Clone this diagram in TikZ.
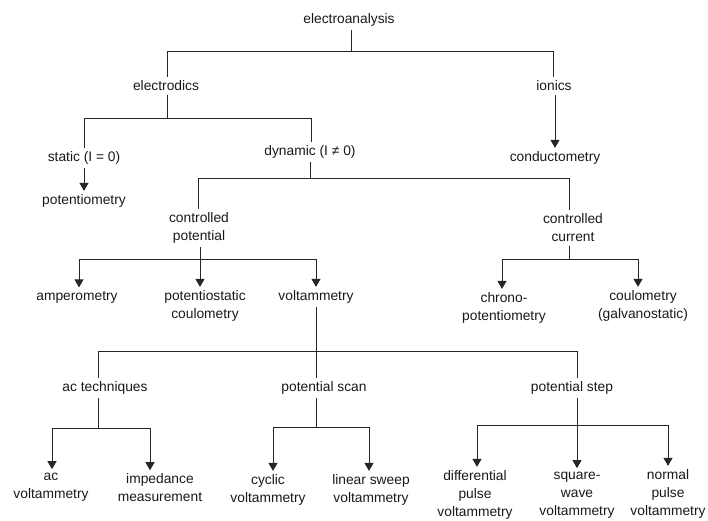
\documentclass[tikz,border=0pt]{standalone}
\usepackage{fontspec}
\setmainfont{Liberation Sans}
\usetikzlibrary{arrows.meta}

\begin{document}
\begin{tikzpicture}[x=1pt, y=-1pt,
		item/.style={align=center, inner sep=3.5pt, text=black!90,
			font=\fontsize{13.8}{18}\selectfont},
		link/.style={draw=black!85, line width=0.9pt},
		arr/.style={link, -{Triangle[width=9pt, length=8pt]}}
	]
		\useasboundingbox (0,0) rectangle (708,520);

		% level 0 - 2
		\node[item] (root) at (349,20) {electroanalysis};
		\node[item] (elec) at (166,86) {electrodics};
		\node[item] (ion) at (554,86) {ionics};
		\node[item] (stat) at (84,158) {static (I = 0)};
		\node[item] (dyn) at (310,152) {dynamic (I ≠ 0)};
		\node[item] (pot) at (84,201) {potentiometry};
		\node[item] (cond) at (555,158) {conductometry};

		% level 3 - 4
		\node[item] (cpot) at (199,228) {controlled\\potential};
		\node[item] (ccur) at (573,228) {controlled\\current};
		\node[item] (amp) at (77,297) {amperometry};
		\node[item] (pcoul) at (205,306) {potentiostatic\\coulometry};
		\node[item] (volt) at (316,297) {voltammetry};
		\node[item] (chrono) at (504,308) {chrono-\\potentiometry};
		\node[item] (gcoul) at (643,306) {coulometry\\(galvanostatic)};

		% level 5 - 6
		\node[item] (act) at (105,388) {ac techniques};
		\node[item] (scan) at (324,388) {potential scan};
		\node[item] (pstep) at (572,388) {potential step};
		\node[item] (acv) at (51,487) {ac\\voltammetry};
		\node[item] (imp) at (160,488) {impedance\\measurement};
		\node[item] (cyc) at (268,490) {cyclic\\voltammetry};
		\node[item] (lin) at (371,490) {linear sweep\\voltammetry};
		\node[item] (dpv) at (475,495) {differential\\pulse\\voltammetry};
		\node[item] (swv) at (577,495) {square-\\wave\\voltammetry};
		\node[item] (npv) at (668,494) {normal\\pulse\\voltammetry};

		% junctions
		\coordinate (j0) at (351,51);
		\coordinate (j0a) at (167,51);
		\coordinate (j0b) at (553,51);
		\coordinate (j1) at (167,118);
		\coordinate (j1a) at (84,118);
		\coordinate (j1b) at (311,118);
		\coordinate (j2) at (310,178);
		\coordinate (j2a) at (198,178);
		\coordinate (j2b) at (569,178);
		\coordinate (j3) at (200,259);
		\coordinate (j3a) at (79,259);
		\coordinate (j3c) at (316,259);
		\coordinate (j4) at (569,259);
		\coordinate (j4a) at (502,259);
		\coordinate (j4b) at (638,259);
		\coordinate (j5) at (316,351);
		\coordinate (j5a) at (98,351);
		\coordinate (j5c) at (577,351);
		\coordinate (j6) at (98,428);
		\coordinate (j6a) at (52,428);
		\coordinate (j6b) at (150,428);
		\coordinate (j7) at (316,427);
		\coordinate (j7a) at (273,427);
		\coordinate (j7b) at (369,427);
		\coordinate (j8) at (577,425);
		\coordinate (j8a) at (477,425);
		\coordinate (j8c) at (668,425);

		% parents down to their bars
		\foreach \p/\j in {root/j0, elec/j1, dyn/j2, cpot/j3, ccur/j4, volt/j5, act/j6, scan/j7, pstep/j8}
			\draw[link] (\p.south -| \j) -- (\j);

		% bars
		\draw[link] (j0a) -- (j0b);
		\draw[link] (j1a) -- (j1b);
		\draw[link] (j2a) -- (j2b);
		\draw[link] (j3a) -- (j3c);
		\draw[link] (j4a) -- (j4b);
		\draw[link] (j5a) -- (j5c);
		\draw[link] (j6a) -- (j6b);
		\draw[link] (j7a) -- (j7b);
		\draw[link] (j8a) -- (j8c);

		% plain branches
		\foreach \j/\c in {j0a/elec, j0b/ion, j1a/stat, j1b/dyn, j2a/cpot, j2b/ccur, j5a/act, j5/scan, j5c/pstep}
			\draw[link] (\j) -- (\j |- \c.north);

		% arrow branches
		\foreach \j/\c in {j3a/amp, j3/pcoul, j3c/volt, j4a/chrono, j4b/gcoul, j6a/acv, j6b/imp, j7a/cyc, j7b/lin, j8a/dpv, j8/swv, j8c/npv}
			\draw[arr] (\j) -- (\j |- \c.north);

		\draw[arr] (stat.south -| pot) -- (pot);
		\draw[arr] (ion.south -| cond) -- (cond);
	\end{tikzpicture}
\end{document}
